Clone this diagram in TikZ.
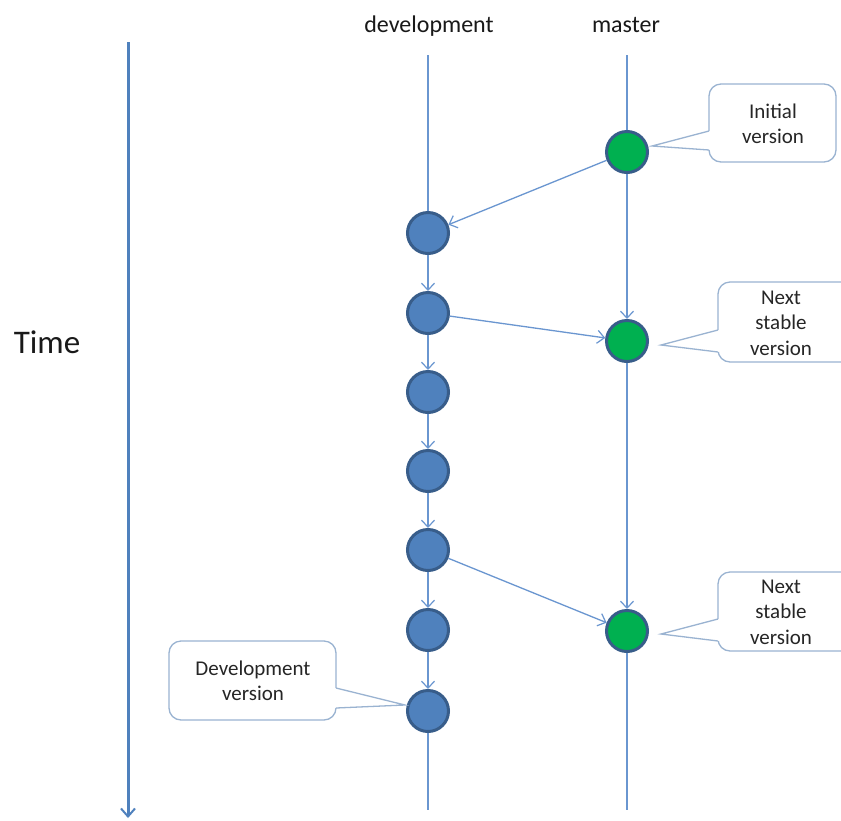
\documentclass[tikz,border=0pt]{standalone}
\usepackage{fontspec}
\setmainfont{Carlito}
\usetikzlibrary{arrows.meta}
\definecolor{lineblue}{HTML}{6A96D0}
\definecolor{nodeblue}{HTML}{4F81BD}
\definecolor{nodeborder}{HTML}{385D8A}
\definecolor{nodegreen}{HTML}{00B050}
\definecolor{callborder}{HTML}{9AB3D1}
\definecolor{timeblue}{HTML}{4F81BD}
\tikzset{
  devnode/.style={circle, minimum size=41pt, inner sep=0pt, fill=nodeblue, draw=nodeborder, line width=3pt},
  masternode/.style={devnode, fill=nodegreen},
  flow/.style={draw=lineblue, line width=1.3pt},
  conn/.style={flow, -{Straight Barb[length=7pt,width=13pt,line width=1.2pt]}},
  timearrow/.style={draw=timeblue, line width=3pt, -{Straight Barb[length=8pt,width=14pt,line width=2pt]}},
  headlbl/.style={font=\fontsize{24}{28}\selectfont, anchor=base, inner sep=0pt, text=black!90},
  calltext/.style={font=\fontsize{21}{25.5}\selectfont, align=center, inner sep=0pt, text=black!85},
  callbox/.style={draw=callborder, line width=1.3pt, fill=white, rounded corners=12pt},
  callptr/.style={draw=callborder, line width=1.3pt}
}
\begin{document}
\begin{tikzpicture}[x=1pt,y=-1pt]
\useasboundingbox (0,0) rectangle (841,820);
\clip (0,0) rectangle (841,820);
\fill[white] (0,0) rectangle (841,820);

% time axis
\coordinate (t0) at (128,42);
\coordinate (t1) at (128,818);
\draw[timearrow] (t0) -- (t1);
\node[font=\fontsize{33}{38}\selectfont, inner sep=0pt, text=black!90] (time) at (47,342) {Time};

% headers
\node[headlbl] (hdev) at (429,32) {development};
\node[headlbl] (hmaster) at (626,32) {master};

% commits
\node[masternode] (g1) at (627,152) {};
\node[masternode] (g2) at (627,341) {};
\node[masternode] (g3) at (627,631) {};
\node[devnode] (b1) at (428,233) {};
\node[devnode] (b2) at (428,313) {};
\node[devnode] (b3) at (428,392) {};
\node[devnode] (b4) at (428,471) {};
\node[devnode] (b5) at (428,550) {};
\node[devnode] (b6) at (428,630) {};
\node[devnode] (b7) at (428,711) {};

\coordinate (devtop) at (428,55);
\coordinate (devbot) at (428,810);
\coordinate (mtop) at (627,55);
\coordinate (mbot) at (627,810);

\draw[flow] (devtop) -- (b1);
\draw[flow] (b7) -- (devbot);
\draw[flow] (mtop) -- (g1);
\draw[flow] (g3) -- (mbot);

\draw[conn] (b1) -- (b2);
\draw[conn] (b2) -- (b3);
\draw[conn] (b3) -- (b4);
\draw[conn] (b4) -- (b5);
\draw[conn] (b5) -- (b6);
\draw[conn] (b6) -- (b7);
\draw[conn] (g1) -- (g2);
\draw[conn] (g2) -- (g3);
\draw[conn] (g1) -- (b1);
\draw[conn] (b2) -- (g2);
\draw[conn] (b5) -- (g3);

% callout: Initial version
\draw[callbox] (709,84) rectangle (836,162);
\coordinate (p1) at (652,146);
\fill[white] (p1) -- (709,131) -- (710.8,131.5) -- (710.8,149.5) -- (709,150) -- cycle;
\draw[callptr] (709,131) -- (p1) -- (709,150);
\node[calltext] (cInit) at (773,124) {Initial\\version};

% callout: Next stable version (1)
\draw[callbox] (718,282) rectangle (870,362);
\coordinate (p2) at (661,345);
\fill[white] (p2) -- (718,330) -- (719.8,330.5) -- (719.8,351.5) -- (718,352) -- cycle;
\draw[callptr] (718,330) -- (p2) -- (718,352);
\node[calltext] (cNext1) at (781,323) {Next\\stable\\version};

% callout: Next stable version (2)
\draw[callbox] (718,572) rectangle (870,651);
\coordinate (p3) at (661,634);
\fill[white] (p3) -- (718,619) -- (719.8,619.5) -- (719.8,640.5) -- (718,641) -- cycle;
\draw[callptr] (718,619) -- (p3) -- (718,641);
\node[calltext] (cNext2) at (781,612) {Next\\stable\\version};

% callout: Development version
\draw[callbox] (169,641) rectangle (336,720);
\coordinate (p4) at (405,705);
\fill[white] (p4) -- (336,688) -- (334.2,688.5) -- (334.2,707.5) -- (336,708) -- cycle;
\draw[callptr] (336,688) -- (p4) -- (336,708);
\node[calltext] (cDev) at (253,681) {Development\\version};
\end{tikzpicture}
\end{document}
